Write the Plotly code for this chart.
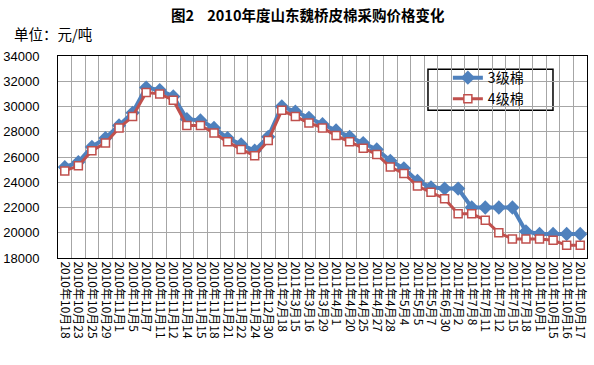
import plotly.graph_objects as go

categories = [
    "2010年10月18", "2010年10月23", "2010年10月25", "2010年10月29", "2010年11月1",
    "2010年11月5", "2010年11月7", "2010年11月11", "2010年11月12", "2010年11月14",
    "2010年11月15", "2010年11月18", "2010年11月21", "2010年11月22", "2010年11月24",
    "2010年12月30", "2011年2月18", "2011年3月15", "2011年3月16", "2011年3月29",
    "2011年4月1", "2011年4月20", "2011年4月25", "2011年4月27", "2011年4月28",
    "2011年5月4", "2011年5月5", "2011年5月7", "2011年6月30", "2011年7月2",
    "2011年7月8", "2011年7月11", "2011年7月12", "2011年7月15", "2011年7月18",
    "2011年10月1", "2011年10月15", "2011年10月16", "2011年10月17",
]

grade3 = [
    25200, 25600, 26800, 27500, 28500, 29500, 31500, 31300, 30800, 29000,
    28900, 28300, 27500, 27000, 26500, 27600, 30000, 29600, 29100, 28600,
    28100, 27600, 27100, 26600, 25700, 25100, 24100, 23600, 23500, 23500,
    22000, 22000, 22000, 22000, 20100, 19900, 19900, 19900, 19900,
]

grade4 = [
    24900, 25300, 26500, 27100, 28300, 29200, 31100, 31000, 30500, 28500,
    28500, 27900, 27200, 26600, 26100, 27300, 29700, 29200, 28700, 28300,
    27700, 27200, 26700, 26200, 25200, 24700, 23700, 23200, 22700, 21500,
    21500, 21000, 20000, 19500, 19500, 19500, 19400, 19000, 19000,
]

y_ticks = [18000, 20000, 22000, 24000, 26000, 28000, 30000, 32000, 34000]

fig = go.Figure()
fig.add_trace(go.Scatter(
    x=categories, y=grade3, name="3级棉", mode="lines+markers",
    line=dict(color="#4F81BD", width=4),
    marker=dict(symbol="diamond", size=11, color="#4F81BD"),
))
fig.add_trace(go.Scatter(
    x=categories, y=grade4, name="4级棉", mode="lines+markers",
    line=dict(color="#C0504D", width=3),
    marker=dict(symbol="square", size=8, color="white",
                line=dict(color="#C0504D", width=1.5)),
))

# legend frame
fig.add_shape(type="rect", xref="paper", yref="paper",
              x0=0.6994, x1=0.9357, y0=0.7316, y1=0.934,
              line=dict(color="black", width=1.5), fillcolor="white",
              layer="between")

fig.update_layout(
    width=594, height=365,
    margin=dict(l=58, r=7, t=56, b=107, autoexpand=False),
    paper_bgcolor="white", plot_bgcolor="white",
    font=dict(family="Liberation Sans, Noto Sans CJK SC, sans-serif", size=13, color="black"),
    showlegend=True,
    legend=dict(x=0.737, y=0.97, xanchor="left", yanchor="top",
                bgcolor="rgba(0,0,0,0)", borderwidth=0,
                font=dict(size=14, family="Noto Sans CJK SC, sans-serif"),
                itemwidth=30, tracegroupgap=0),
    annotations=[
        dict(text="<b>图2&nbsp;&nbsp;&nbsp;&nbsp;2010年度山东魏桥皮棉采购价格变化</b>", xref="paper", yref="paper",
             x=(308 - 58) / 529, y=1, xanchor="center", yanchor="middle",
             yshift=(56 - 14), showarrow=False,
             font=dict(size=14.5, family="Noto Sans CJK SC, sans-serif")),
        dict(text="单位：元/吨", xref="paper", yref="paper",
             x=0, y=1, xanchor="left", yanchor="middle",
             xshift=-46, yshift=(56 - 33), showarrow=False,
             font=dict(size=14.5, family="Noto Sans CJK SC, sans-serif")),
    ],
)

fig.update_xaxes(
    type="category", tickson="boundaries", tickangle=90,
    tickmode="array", tickvals=categories, ticktext=categories,
    showgrid=True, gridcolor="#a6a6a6", gridwidth=1,
    showline=True, linecolor="black", linewidth=1, mirror=True,
    ticks="", tickfont=dict(size=12, family="Noto Sans CJK SC, sans-serif"),
    range=[-0.5, len(categories) - 0.5], automargin=False,
)
fig.update_yaxes(
    range=[18000, 34000], tickvals=y_ticks, ticktext=[str(v) for v in y_ticks],
    showgrid=True, gridcolor="#a6a6a6", gridwidth=1,
    showline=True, linecolor="black", linewidth=1, mirror=True,
    ticks="", tickfont=dict(size=13, family="Liberation Sans, Arial, sans-serif"),
    ticklabelstandoff=15, zeroline=False, automargin=False,
)

fig.write_html("out.html", config={"displayModeBar": False},
               post_script="document.body.style.margin='0';document.body.style.padding='0';")
